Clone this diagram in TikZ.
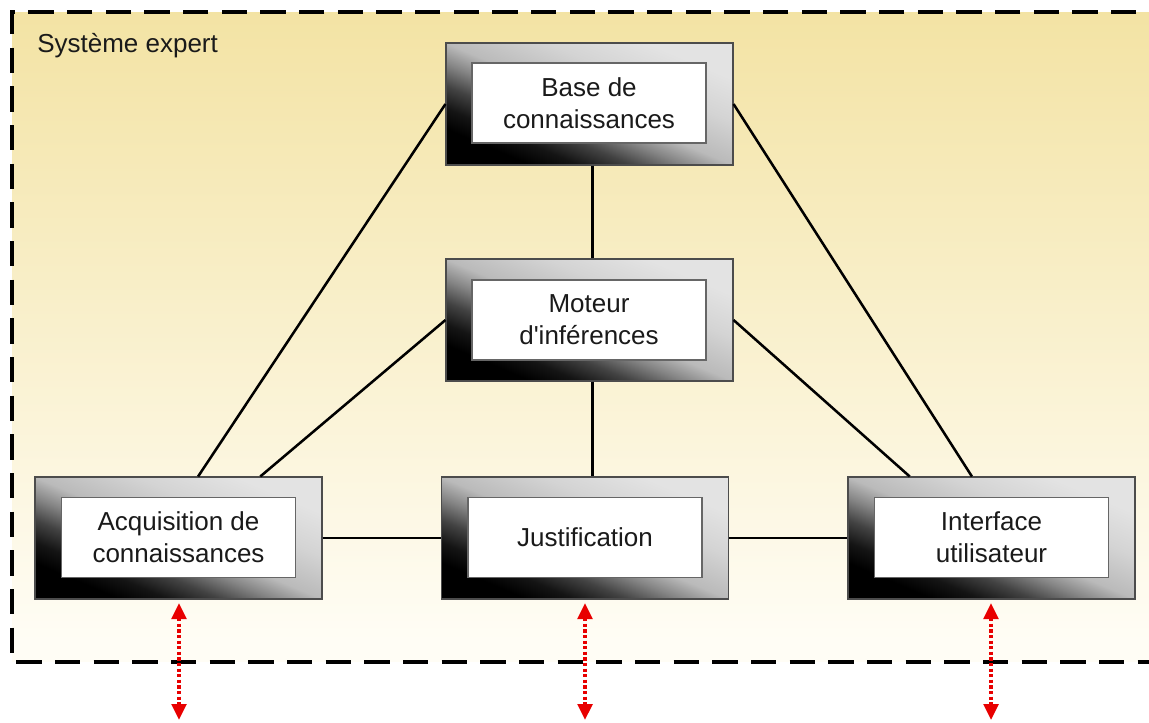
\documentclass[tikz,border=0pt]{standalone}
\usepackage{fontspec}
\setmainfont{Liberation Sans}
\usetikzlibrary{arrows.meta,calc}
\pgfdeclarehorizontalshading{frameshade}{100bp}{color(0bp)=(black); color(25bp)=(black); color(31bp)=(black!92!white); color(37.5bp)=(black!74!white); color(44bp)=(black!48!white); color(50bp)=(black!27!white); color(62.5bp)=(black!17!white); color(75bp)=(black!11!white); color(100bp)=(black!11!white)}
\definecolor{bgtop}{HTML}{F3E3A4}
\definecolor{bgbot}{HTML}{FFFDF5}
\definecolor{txt}{HTML}{1A1A1A}
\definecolor{arrred}{HTML}{E80000}
\newcommand\myframefill[1]{%
  \begin{scope}[transform canvas={shift={#1}, xscale=2.3525}]
    \shade[shading=frameshade, shading angle=45] (-61,-61) rectangle (61,61);
  \end{scope}}
\tikzset{
  frame/.style={draw=black!70, line width=0.8pt,
    minimum width=215.25pt, minimum height=91.5pt, inner sep=0pt},
  label/.style={draw=black!60, line width=0.8pt, fill=white, minimum width=175.5pt,
    minimum height=60pt, inner sep=0pt, align=center, text=txt,
    font=\fontsize{19.5}{24}\selectfont},
  link/.style={draw=black, line width=1.9pt},
  ioarrow/.style={draw=arrred, line width=2.6pt, dash pattern=on 2.4pt off 1.8pt,
    {Triangle[width=11pt,length=12pt]}-{Triangle[width=11pt,length=12pt]}},
  border/.style={draw=black, line width=2.3pt, dash pattern=on 19pt off 10pt}
}
\begin{document}
\begin{tikzpicture}[x=0.75pt,y=-0.75pt]
\useasboundingbox (0,0) rectangle (1149,722);
\clip (0,0) rectangle (1149,722);
\fill[white] (0,0) rectangle (1149,722);
\shade[top color=bgtop, bottom color=bgbot] (12,12) rectangle (1175,640);
\fill[bgbot] (12,639) rectangle (1175,662);
\draw[border] (1175,12) -- (12,12) -- (12,662) -- (1175,662);
\node[anchor=base west, text=txt, font=\fontsize{19.5}{24}\selectfont, inner sep=0pt] (title) at (37,52) {Système expert};

\myframefill{(589.5,104)}
\myframefill{(589.5,320)}
\myframefill{(178.5,538)}
\myframefill{(585,538)}
\myframefill{(991.5,538)}

\node[frame] (base) at (589.5,104) {};
\node[label] (baseT) at (589,103) {Base de\\connaissances};
\node[frame] (mot) at (589.5,320) {};
\node[label] (motT) at (589,320) {Moteur\\d\textquotesingle inférences};
\node[frame] (acq) at (178.5,538) {};
\node[label] (acqT) at (178.5,537.5) {Acquisition de\\connaissances};
\node[frame] (just) at (585,538) {};
\node[label] (justT) at (585,537.5) {Justification};
\node[frame] (iface) at (991.5,538) {};
\node[label] (ifaceT) at (991.5,537.5) {Interface\\utilisateur};

\coordinate (acqA) at ($(acq.north west)!0.568!(acq.north east)$);
\coordinate (acqB) at ($(acq.north west)!0.784!(acq.north east)$);
\coordinate (ifA) at ($(iface.north west)!0.216!(iface.north east)$);
\coordinate (ifB) at ($(iface.north west)!0.432!(iface.north east)$);
\coordinate (motS) at ($(mot.south)+(3,0)$);
\coordinate (baseS) at ($(base.south)+(3,0)$);

\draw[link] (base.west) -- (acqA);
\draw[link] (base.east) -- (ifB);
\draw[link] (baseS) -- (baseS |- mot.north);
\draw[link] (mot.west) -- (acqB);
\draw[link] (mot.east) -- (ifA);
\draw[link] (motS) -- (motS |- just.north);
\draw[link] (acq.east) -- (just.west);
\draw[link] (just.east) -- (iface.west);

\coordinate (a1) at (179,603);
\coordinate (a2) at (179,720);
\coordinate (j1) at (585,603);
\coordinate (j2) at (585,720);
\coordinate (i1) at (991,603);
\coordinate (i2) at (991,720);
\draw[ioarrow] (a1) -- (a2);
\draw[ioarrow] (j1) -- (j2);
\draw[ioarrow] (i1) -- (i2);
\end{tikzpicture}
\end{document}
